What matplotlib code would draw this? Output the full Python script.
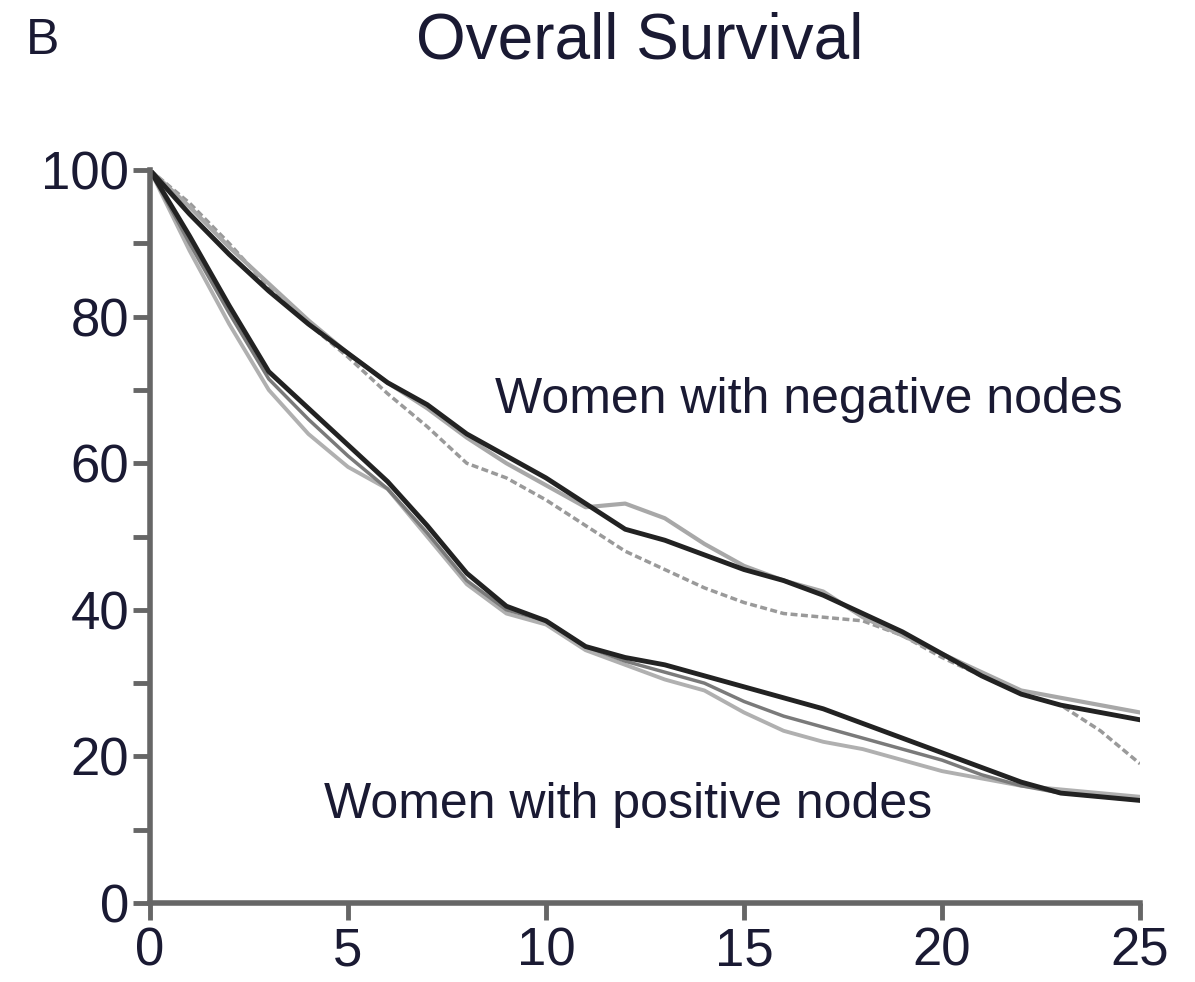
import numpy as np
import matplotlib
matplotlib.use("Agg")
import matplotlib.pyplot as plt

plt.rcParams['font.family'] = ['Liberation Sans', 'DejaVu Sans']

# years of follow-up
years = [0, 1, 2, 3, 4, 5, 6, 7, 8, 9, 10, 11, 12, 13, 14, 15, 16, 17, 18, 19, 20, 21, 22, 23, 24, 25]

# women with negative nodes
neg_black = [100, 94, 88.5, 83.5, 79, 75, 71, 68, 64, 61, 58, 54.5, 51, 49.5, 47.5, 45.5, 44, 42, 39.5, 37, 34, 31, 28.5, 27, 26, 25]
neg_gray = [100, 95, 89.5, 84.5, 79.5, 75, 71, 67.5, 63.5, 60, 57, 54, 54.5, 52.5, 49, 46, 44, 42.5, 39, 36.5, 34, 31.5, 29, 28, 27, 26]
neg_dotted = [100, 95.5, 90, 84, 79, 74.5, 69.5, 65, 60, 58, 55, 51.5, 48, 45.5, 43, 41, 39.5, 39, 38.5, 36.5, 33.5, 31, 28.5, 27, 23.5, 19]

# women with positive nodes
pos_black = [100, 91, 81.5, 72.5, 67.5, 62.5, 57.5, 51.5, 45, 40.5, 38.5, 35, 33.5, 32.5, 31, 29.5, 28, 26.5, 24.5, 22.5, 20.5, 18.5, 16.5, 15, 14.5, 14]
pos_gray = [100, 89, 79, 70, 64, 59.5, 56.5, 50, 43.5, 39.5, 38, 34.5, 32.5, 30.5, 29, 26, 23.5, 22, 21, 19.5, 18, 17, 16, 15.5, 15, 14.5]
pos_gray2 = [100, 90, 80.5, 71.5, 66, 61, 56.5, 50.5, 44, 40, 38.5, 35, 33, 31.5, 30, 27.5, 25.5, 24, 22.5, 21, 19.5, 17.5, 16, 15, 14.5, 14]

fig = plt.figure(figsize=(11.95, 9.82), dpi=100)
ax = fig.add_axes([0.1255, 0.0804, 0.8285, 0.7464])

ax.plot(years, neg_dotted, color='#9a9a9a', lw=2.5, ls=(0, (2, 1)))
ax.plot(years, neg_gray, color='#a8a8a8', lw=3)
ax.plot(years, neg_black, color='#222222', lw=3.5)

ax.plot(years, pos_gray, color='#b0b0b0', lw=2.8)
ax.plot(years, pos_gray2, color='#7a7a7a', lw=2.5)
ax.plot(years, pos_black, color='#222222', lw=3.5)

ax.set_xlim(0, 25)
ax.set_ylim(0, 100)
ax.set_xticks([0, 5, 10, 15, 20, 25])
ax.set_yticks([0, 20, 40, 60, 80, 100])
ax.set_yticks([10, 30, 50, 70, 90], minor=True)
ax.tick_params(axis='both', which='major', labelsize=38, labelcolor='#1a1a33',
               color='#666666', width=3.5, length=12, direction='out', pad=3)
ax.tick_params(axis='x', pad=5)
ax.tick_params(axis='y', which='minor', color='#666666', width=3.5, length=12, direction='out')
for s in ['top', 'right']:
    ax.spines[s].set_visible(False)
for s in ['left', 'bottom']:
    ax.spines[s].set_color('#666666')
    ax.spines[s].set_linewidth(4)

ax.text(8.7, 68.6, 'Women with negative nodes', fontsize=36, color='#1a1a33', va='center')
ax.text(4.4, 13.4, 'Women with positive nodes', fontsize=36, color='#1a1a33', va='center')

fig.text(0.5355, 0.958, 'Overall Survival', fontsize=46, color='#1a1a33', va='center', ha='center')
fig.text(0.036, 0.958, 'B', fontsize=36, color='#1a1a33', va='center', ha='center')

fig.savefig('out.png', dpi=100)
